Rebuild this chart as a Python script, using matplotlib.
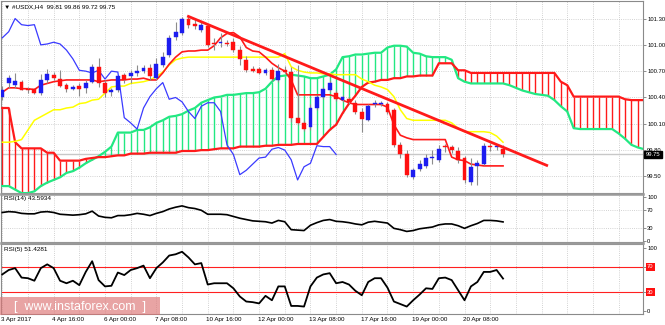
import matplotlib.pyplot as plt
import matplotlib.transforms as mtransforms
from matplotlib.patches import Rectangle
import numpy as np

plt.rcParams['font.family'] = ['Liberation Sans', 'DejaVu Sans']

W, H = 665, 325

# USDX H4 candles, first bar 3 Apr 2017 08:00
opens = [100.41, 100.56, 100.54, 100.58, 100.50, 100.50, 100.45, 100.60, 100.66, 100.61,
         100.54, 100.50, 100.53, 100.51, 100.58, 100.75, 100.56, 100.46, 100.49, 100.66,
         100.64, 100.68, 100.70, 100.74, 100.62, 100.77, 100.89, 101.09, 101.14, 101.29,
         101.24, 101.17, 101.21, 101.02, 101.02, 101.02, 101.03, 100.94, 100.83, 100.72,
         100.72, 100.68, 100.71, 100.60, 100.71, 100.69, 100.17, 100.11, 100.06, 100.28,
         100.41, 100.49, 100.45, 100.37, 100.38, 100.34, 100.24, 100.14, 100.32, 100.33,
         100.33, 100.26, 99.86, 99.75, 99.49, 99.59, 99.62, 99.71, 99.69, 99.83,
         99.84, 99.79, 99.71, 99.44, 99.62, 99.64, 99.84, 99.83, 99.81]
highs = [100.53, 100.66, 100.68, 100.60, 100.52, 100.51, 100.67, 100.73, 100.69, 100.71,
         100.57, 100.54, 100.56, 100.60, 100.78, 100.85, 100.60, 100.51, 100.65, 100.68,
         100.71, 100.77, 100.77, 100.78, 100.85, 100.92, 101.11, 101.26, 101.32, 101.32,
         101.29, 101.27, 101.24, 101.08, 101.14, 101.06, 101.08, 100.99, 100.87, 100.76,
         100.75, 100.74, 100.75, 100.78, 100.76, 100.75, 100.77, 100.14, 100.32, 100.43,
         100.52, 100.60, 100.49, 100.43, 100.41, 100.37, 100.28, 100.33, 100.37, 100.36,
         100.35, 100.28, 99.89, 99.80, 99.60, 99.69, 99.75, 99.80, 99.86, 99.87,
         99.86, 99.83, 99.73, 99.71, 99.69, 99.88, 99.88, 99.87, 99.86]
lows = [100.37, 100.51, 100.51, 100.48, 100.45, 100.44, 100.43, 100.57, 100.60, 100.52,
        100.46, 100.48, 100.42, 100.45, 100.56, 100.52, 100.40, 100.42, 100.46, 100.57,
        100.56, 100.65, 100.68, 100.60, 100.60, 100.75, 100.86, 101.06, 101.11, 101.19,
        101.18, 101.15, 100.98, 100.94, 100.98, 100.99, 100.92, 100.77, 100.69, 100.69,
        100.67, 100.66, 100.59, 100.58, 100.68, 100.12, 100.09, 100.02, 100.03, 100.26,
        100.38, 100.46, 100.36, 100.35, 100.33, 100.21, 100.01, 100.13, 100.29, 100.30,
        100.21, 99.84, 99.71, 99.49, 99.47, 99.56, 99.60, 99.64, 99.67, 99.78,
        99.77, 99.65, 99.43, 99.40, 99.40, 99.63, 99.79, 99.80, 99.72]
closes = [100.49, 100.62, 100.59, 100.49, 100.48, 100.45, 100.60, 100.67, 100.62, 100.53,
          100.50, 100.52, 100.50, 100.57, 100.75, 100.57, 100.45, 100.49, 100.64, 100.60,
          100.68, 100.70, 100.74, 100.64, 100.78, 100.86, 101.08, 101.15, 101.30, 101.23,
          101.22, 101.23, 101.00, 101.01, 101.03, 101.01, 100.94, 100.84, 100.71, 100.70,
          100.68, 100.71, 100.61, 100.70, 100.69, 100.17, 100.11, 100.04, 100.28, 100.41,
          100.50, 100.57, 100.38, 100.40, 100.35, 100.24, 100.16, 100.30, 100.34, 100.34,
          100.24, 99.86, 99.75, 99.52, 99.57, 99.64, 99.71, 99.72, 99.81, 99.83,
          99.80, 99.69, 99.46, 99.61, 99.65, 99.85, 99.84, 99.84, 99.75]

# Ichimoku lines
tenkan = [100.46, 100.51, 100.51, 100.50, 100.50, 100.49, 100.54, 100.56, 100.58, 100.59,
          100.60, 100.60, 100.60, 100.60, 100.60, 100.58, 100.59, 100.60, 100.60, 100.60,
          100.61, 100.61, 100.62, 100.60, 100.60, 100.68, 100.78, 100.86, 100.92, 100.93,
          100.93, 100.94, 100.94, 100.99, 101.08, 101.13, 101.14, 101.09, 100.97, 100.93,
          100.92, 100.86, 100.79, 100.74, 100.70, 100.60, 100.43, 100.43, 100.43, 100.43,
          100.43, 100.43, 100.41, 100.37, 100.34, 100.32, 100.32, 100.32, 100.32, 100.32,
          100.29, 100.09, 99.97, 99.94, 99.92, 99.92, 99.92, 99.92, 99.92, 99.92,
          99.72, 99.69, 99.68, 99.64, 99.63, 99.62, 99.62, 99.62, 99.62]
kijun = [99.89, 99.89, 99.90, 99.92, 100.03, 100.14, 100.18, 100.22, 100.26, 100.26,
         100.28, 100.29, 100.33, 100.34, 100.37, 100.38, 100.45, 100.52, 100.53, 100.53,
         100.56, 100.57, 100.58, 100.60, 100.64, 100.69, 100.77, 100.83, 100.85, 100.86,
         100.86, 100.86, 100.86, 100.86, 100.86, 100.86, 100.86, 100.86, 100.86, 100.86,
         100.86, 100.86, 100.86, 100.86, 100.90, 100.75, 100.71, 100.69, 100.68, 100.68,
         100.67, 100.67, 100.66, 100.66, 100.66, 100.66, 100.61, 100.58, 100.54, 100.52,
         100.49, 100.41, 100.26, 100.16, 100.14, 100.14, 100.14, 100.14, 100.14, 100.14,
         100.11, 100.05, 100.01, 100.01, 100.01, 100.01, 100.00, 99.96, 99.89]
span_a = [99.39, 99.39, 99.35, 99.31, 99.31, 99.33, 99.39, 99.43, 99.46, 99.49,
          99.54, 99.56, 99.60, 99.65, 99.69, 99.73, 99.78, 99.84, 100.00, 100.00,
          100.00, 100.03, 100.03, 100.06, 100.11, 100.14, 100.18, 100.19, 100.21, 100.25,
          100.28, 100.34, 100.37, 100.40, 100.41, 100.43, 100.43, 100.44, 100.45, 100.45,
          100.46, 100.50, 100.58, 100.64, 100.65, 100.66, 100.65, 100.64, 100.62, 100.62,
          100.64, 100.66, 100.72, 100.86, 100.87, 100.89, 100.89, 100.90, 100.91, 100.91,
          100.97, 100.99, 100.99, 100.98, 100.91, 100.90, 100.87, 100.86, 100.86, 100.86,
          100.83, 100.62, 100.58, 100.56, 100.56, 100.56, 100.56, 100.56, 100.56, 100.54,
          100.51, 100.48, 100.46, 100.44, 100.43, 100.42, 100.37, 100.30, 100.24, 100.05,
          100.04, 100.04, 100.04, 100.04, 100.04, 100.04, 99.99, 99.93, 99.86, 99.83, 99.81]
span_b = [100.28, 100.28, 99.89, 99.82, 99.82, 99.82, 99.82, 99.77, 99.77, 99.68,
          99.68, 99.68, 99.68, 99.70, 99.71, 99.72, 99.72, 99.73, 99.74, 99.74,
          99.76, 99.76, 99.76, 99.77, 99.77, 99.77, 99.77, 99.77, 99.79, 99.79,
          99.79, 99.80, 99.80, 99.81, 99.82, 99.82, 99.82, 99.84, 99.84, 99.84,
          99.84, 99.85, 99.85, 99.86, 99.86, 99.86, 99.87, 99.87, 99.87, 99.87,
          99.95, 100.03, 100.09, 100.22, 100.33, 100.42, 100.52, 100.57, 100.58, 100.60,
          100.60, 100.62, 100.62, 100.64, 100.64, 100.65, 100.65, 100.65, 100.79, 100.79,
          100.79, 100.71, 100.71, 100.68, 100.68, 100.68, 100.68, 100.68, 100.68, 100.68,
          100.68, 100.68, 100.68, 100.68, 100.68, 100.68, 100.68, 100.58, 100.54, 100.41,
          100.41, 100.41, 100.41, 100.41, 100.41, 100.41, 100.41, 100.38, 100.37, 100.37, 100.37]
chikou_shift = 26

# trend line drawn on the chart (bar index, price)
trend_bars = [28.8, 85.0]
trend_prices = [101.33, 99.62]

rsi14 = [65, 67, 66, 63, 62, 62, 66, 67, 65, 61, 60, 59, 60, 62, 68, 57, 54, 53, 58, 58,
         60, 63, 61, 58, 63, 67, 73, 77, 80, 76, 74, 70, 61, 61, 61, 60, 56, 52, 49, 46,
         45, 44, 41, 47, 44, 26, 25, 24, 36, 42, 47, 49, 45, 44, 42, 39, 37, 43, 45, 43,
         41, 29, 26, 22, 24, 28, 30, 32, 37, 39, 39, 35, 29, 35, 40, 47, 47, 46, 43.59]
rsi5 = [58, 65, 68, 53, 52, 48, 68, 74, 68, 48, 44, 48, 41, 62, 79, 49, 39, 40, 61, 57,
        65, 68, 72, 52, 68, 77, 88, 90, 94, 85, 74, 76, 42, 44, 44, 44, 36, 23, 15, 14,
        12, 24, 17, 39, 39, 8, 8, 7, 39, 53, 58, 60, 44, 46, 42, 32, 25, 46, 52, 52,
        37, 15, 11, 7, 17, 26, 36, 35, 52, 53, 49, 33, 17, 39, 46, 62, 62, 65, 51.43]

time_labels = ['3 Apr 2017', '4 Apr 16:00', '6 Apr 00:00', '7 Apr 08:00', '10 Apr 16:00',
               '12 Apr 00:00', '13 Apr 08:00', '17 Apr 16:00', '19 Apr 00:00', '20 Apr 08:00']
label_step = 8

price_ticks = [99.50, 99.80, 100.10, 100.40, 100.70, 101.00, 101.30]

BULL = '#1c1cf0'
BEAR = '#ff1010'
GREEN = '#22e882'
RED = '#ff1a1a'
GRID = '#c4c4c4'
DOT = (0, (1, 1.6))
FS = 4.2

fig = plt.figure(figsize=(W / 100, H / 100), dpi=100)
fig.patch.set_facecolor('white')


def px_axes(x0, y0, x1, y1):
    return fig.add_axes([x0 / W, 1 - y1 / H, (x1 - x0) / W, (y1 - y0) / H])


ax = px_axes(1, 1, 643, 193)
ax14 = px_axes(1, 194, 643, 242)
ax5 = px_axes(1, 244, 643, 314)

x_lo, x_hi = -0.2, 99.8
idx = np.arange(len(closes))
cloud_x = np.arange(len(span_a))

for a in (ax, ax14, ax5):
    a.set_xlim(x_lo, x_hi)
    a.set_xticks(np.arange(0, 100, 4))
    a.tick_params(axis='x', length=0, labelbottom=False)
    a.grid(axis='x', color=GRID, ls=DOT, lw=0.6)
    a.yaxis.tick_right()
    a.tick_params(axis='y', length=2, width=0.5, pad=1.0, labelsize=FS,
                  color='#606060', labelcolor='black')
    for s in a.spines.values():
        s.set_color('#8a8a8a')
        s.set_linewidth(0.8)
    a.set_axisbelow(True)

# ---- main price panel ----
ax.set_ylim(99.311, 101.50)
ax.set_yticks(price_ticks)
ax.set_yticklabels([f'{p:.2f}' for p in price_ticks])
ax.grid(axis='y', color=GRID, ls=DOT, lw=0.6)

sa = np.array(span_a)
sb = np.array(span_b)
hatch_colors = [GREEN if a >= b else RED for a, b in zip(sa, sb)]
ax.vlines(cloud_x, sa, sb, colors=hatch_colors, lw=1.0, zorder=2)
ax.plot(cloud_x, sa, color=GREEN, lw=1.6, zorder=3)
ax.plot(cloud_x, sb, color=RED, lw=1.6, zorder=3)
ax.plot(idx, kijun, color='#ffff00', lw=1.1, zorder=3)
ax.plot(idx, tenkan, color=RED, lw=1.2, zorder=3)
chikou = closes[chikou_shift:]
ax.plot(idx[:len(chikou)], chikou, color='#3a3aff', lw=0.9, zorder=3)

ax.axhline(closes[-1], color='#c8c8c8', lw=1.0, zorder=1)

for i, (o, h, l, c) in enumerate(zip(opens, highs, lows, closes)):
    col = BULL if c > o else BEAR
    ax.vlines(i, l, h, color='#8c8c8c', lw=0.8, zorder=5)
    bottom = min(o, c)
    height = max(abs(c - o), 0.012)
    ax.add_patch(Rectangle((i - 0.3, bottom), 0.6, height, facecolor=col,
                           edgecolor=col, lw=0.3, zorder=6))

ax.plot(trend_bars, trend_prices, color=RED, lw=2.0, zorder=8, solid_capstyle='butt')

trans_main = mtransforms.blended_transform_factory(ax.transAxes, ax.transData)
ax.text(1.004, closes[-1], f'{closes[-1]:.2f}', transform=trans_main, fontsize=FS,
        color='white', va='center', ha='left', clip_on=False, zorder=9,
        bbox=dict(boxstyle='square,pad=0.25', facecolor='black', edgecolor='black'))

ax.text(0.004, 0.985, '\u25bc #USDX,H4  99.81 99.86 99.72 99.75', transform=ax.transAxes,
        fontsize=4.6, va='top', ha='left', color='black', zorder=9)

# ---- RSI(14) ----
ax14.set_ylim(-2, 107)
ax14.set_yticks([0, 30, 70, 100])
ax14.set_yticklabels(['0', '30', '70', '100'])
for lv in (30, 70):
    ax14.axhline(lv, color=GRID, ls=DOT, lw=0.6, zorder=1)
ax14.plot(idx, rsi14, color='black', lw=1.2, zorder=4)
ax14.text(0.004, 0.96, 'RSI(14) 43.5934', transform=ax14.transAxes, fontsize=4.6,
          va='top', ha='left')

# ---- RSI(5) ----
ax5.set_ylim(-4.8, 106.3)
ax5.set_yticks([0, 30, 70, 100])
ax5.set_yticklabels(['0', '', '', '100'])
for lv in (30, 70):
    ax5.axhline(lv, color='#ff2020', lw=0.8, zorder=2)
trans5 = mtransforms.blended_transform_factory(ax5.transAxes, ax5.transData)
for lv in (30, 70):
    ax5.text(1.006, lv, str(lv), transform=trans5, fontsize=FS, color='white',
             va='center', ha='left', clip_on=False,
             bbox=dict(boxstyle='square,pad=0.2', facecolor='#ff1010', edgecolor='none'))
ax5.plot(idx, rsi5, color='black', lw=1.3, zorder=4)
ax5.text(0.004, 0.95, 'RSI(5) 51.4281', transform=ax5.transAxes, fontsize=4.6,
         va='top', ha='left')

trans_t = mtransforms.blended_transform_factory(ax5.transData, ax5.transAxes)
for k, lab in enumerate(time_labels):
    ax5.text(k * label_step - 0.2, -0.04, lab, transform=trans_t, fontsize=4.5,
             va='top', ha='left', clip_on=False)

# panel separators
for yy in (193.5, 243.2):
    fig.add_artist(plt.Line2D([1 / W, 643 / W], [1 - yy / H, 1 - yy / H],
                              transform=fig.transFigure, color='#9a9a9a', lw=1.8))

# watermark
fig.add_artist(Rectangle((0, 1 - 315 / H), 160 / W, 18 / H, transform=fig.transFigure,
                         facecolor='#dd7474', alpha=0.65, edgecolor='none', zorder=20))
fig.text(80 / W, 1 - 307 / H, '[  www.instaforex.com  ]', ha='center', va='center',
         color='white', fontsize=9, zorder=21)

fig.savefig('out.png', dpi=100, facecolor='white')
